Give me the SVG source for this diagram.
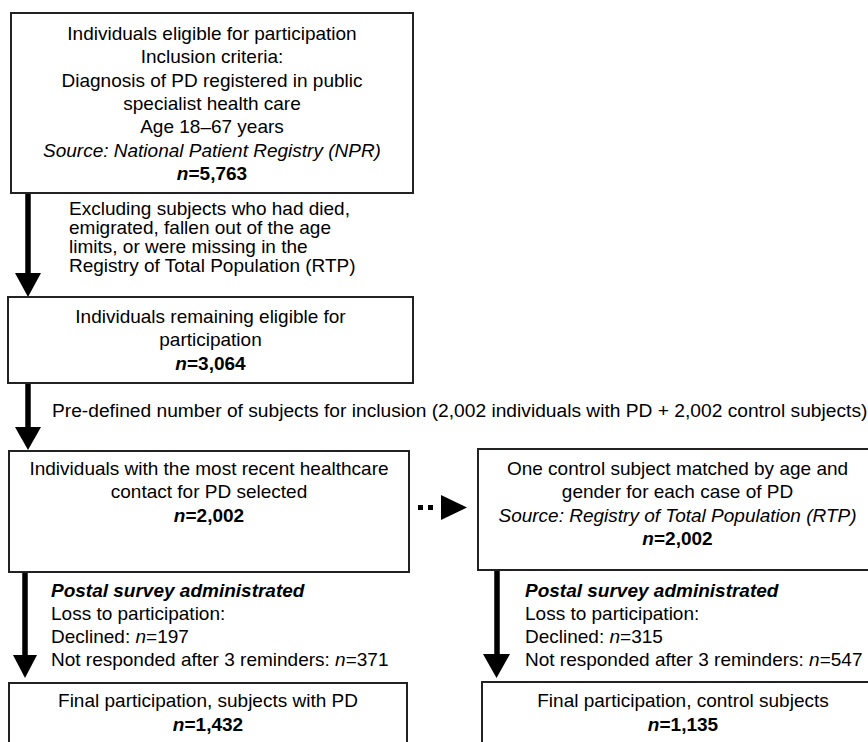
<svg xmlns="http://www.w3.org/2000/svg" width="868" height="742" viewBox="0 0 868 742">
<style>
text{font-family:"Liberation Sans",Arial,sans-serif;font-size:19px;fill:#000}
.c{text-anchor:middle}
.box{fill:#fff;stroke:#222;stroke-width:2}
.b{font-weight:bold}
.i{font-style:italic}
.shaft{stroke:#000;stroke-width:5.5;fill:none}
.head{fill:#000}
</style>
<rect width="868" height="742" fill="#fff"/>
<g id="connectors">
<line class="shaft" x1="28" y1="193" x2="28" y2="275"/>
<polygon class="head" points="15,273 41,273 28,297"/>
<line class="shaft" x1="28" y1="383" x2="28" y2="429"/>
<polygon class="head" points="15,427 41,427 28,450"/>
<line class="shaft" x1="25" y1="572" x2="25" y2="657"/>
<polygon class="head" points="13,655 37,655 25,678"/>
<line class="shaft" x1="497" y1="570" x2="497" y2="656"/>
<polygon class="head" points="483,654 510,654 496.5,678"/>
<line x1="418" y1="507.5" x2="434" y2="507.5" stroke="#000" stroke-width="5" stroke-dasharray="5 5"/>
<polygon class="head" points="441,495 467,507.5 441,520"/>
<text x="69" y="215">Excluding subjects who had died,</text>
<text x="69" y="234">emigrated, fallen out of the age</text>
<text x="69" y="253">limits, or were missing in the</text>
<text x="69" y="272">Registry of Total Population (RTP)</text>
<text x="52" y="417" style="font-size:19.2px">Pre-defined number of subjects for inclusion (2,002 individuals with PD + 2,002 control subjects)</text>
<text x="51" y="597" class="b i">Postal survey administrated</text>
<text x="51" y="620">Loss to participation:</text>
<text x="51" y="643">Declined: <tspan class="i">n</tspan>=197</text>
<text x="51" y="666">Not responded after 3 reminders: <tspan class="i">n</tspan>=371</text>
<text x="525" y="597" class="b i">Postal survey administrated</text>
<text x="525" y="620">Loss to participation:</text>
<text x="525" y="643">Declined: <tspan class="i">n</tspan>=315</text>
<text x="525" y="666">Not responded after 3 reminders: <tspan class="i">n</tspan>=547</text>
</g>
<g id="eligible">
<rect class="box" x="11" y="13" width="402" height="180"/>
<text class="c" x="212" y="40">Individuals eligible for participation</text>
<text class="c" x="212" y="63.3">Inclusion criteria:</text>
<text class="c" x="212" y="86.6">Diagnosis of PD registered in public</text>
<text class="c" x="212" y="110">specialist health care</text>
<text class="c" x="212" y="133.3">Age 18–67 years</text>
<text class="c i" x="212" y="156.6">Source: National Patient Registry (NPR)</text>
<text class="c b" x="212" y="180"><tspan class="i">n</tspan>=5,763</text>
</g>
<g id="remaining">
<rect class="box" x="8" y="297" width="405" height="86"/>
<text class="c" x="210.5" y="323">Individuals remaining eligible for</text>
<text class="c" x="210.5" y="346.3">participation</text>
<text class="c b" x="210.5" y="369.6"><tspan class="i">n</tspan>=3,064</text>
</g>
<g id="selected">
<rect class="box" x="9" y="451" width="400" height="121"/>
<text class="c" x="209" y="475">Individuals with the most recent healthcare</text>
<text class="c" x="209" y="498.3">contact for PD selected</text>
<text class="c b" x="209" y="521.7"><tspan class="i">n</tspan>=2,002</text>
</g>
<g id="control">
<rect class="box" x="478" y="449" width="399" height="121"/>
<text class="c" x="677.5" y="475">One control subject matched by age and</text>
<text class="c" x="677.5" y="498.3">gender for each case of PD</text>
<text class="c i" x="677.5" y="521.7">Source: Registry of Total Population (RTP)</text>
<text class="c b" x="677.5" y="545"><tspan class="i">n</tspan>=2,002</text>
</g>
<g id="final-pd">
<rect class="box" x="9" y="683" width="398" height="80"/>
<text class="c" x="208" y="707.3">Final participation, subjects with PD</text>
<text class="c b" x="208" y="730.7"><tspan class="i">n</tspan>=1,432</text>
</g>
<g id="final-control">
<rect class="box" x="482" y="682" width="402" height="80"/>
<text class="c" x="683" y="707.3">Final participation, control subjects</text>
<text class="c b" x="683" y="730.7"><tspan class="i">n</tspan>=1,135</text>
</g>
</svg>
